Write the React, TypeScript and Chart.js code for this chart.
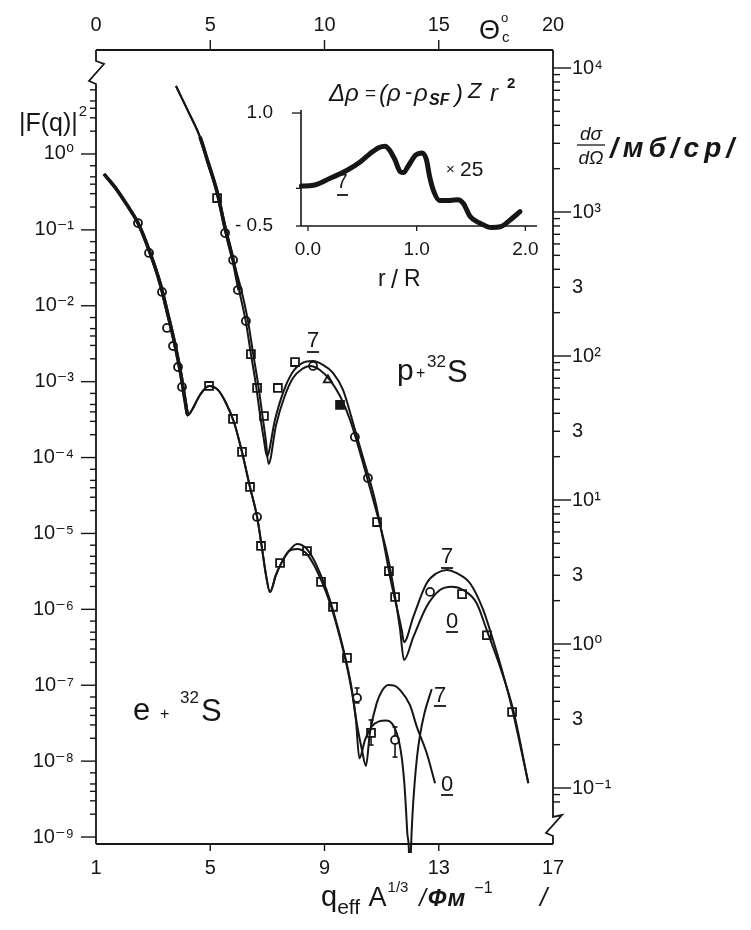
import React, { useEffect, useRef } from "react";
import { Chart, registerables } from "chart.js";
Chart.register(...registerables);

const FONT = "'Liberation Sans', 'DejaVu Sans', sans-serif";
const INK = "#161616";

// ---------- e + 32S : |F(q)|^2 versus q_eff A^(1/3) ----------
const eQ = [1.28, 1.735, 2.085, 2.47, 2.856, 3.241, 3.521, 3.766, 3.976, 4.116, 4.221, 4.361, 4.64, 4.957, 5.27, 5.55, 5.83, 6.11, 6.39, 6.64, 6.81, 6.95, 7.09, 7.30, 7.51, 7.76];
const eF = [0.545, 0.336, 0.213, 0.123, 0.0543, 0.02, 0.00757, 0.00305, 0.00122, 5.74e-4, 3.64e-4, 4.24e-4, 6.68e-4, 8.77e-4, 7.78e-4, 5.24e-4, 2.94e-4, 1.19e-4, 4.1e-5, 1.65e-5, 6.46e-6, 2.84e-6, 1.69e-6, 2.84e-6, 4.22e-6, 5.89e-6];
const e7Q = [8.04, 8.35, 8.63, 8.91, 9.19, 9.47, 9.75, 9.96, 10.10, 10.22, 10.42, 10.65, 10.885, 11.18, 11.53, 11.70, 11.795, 11.854, 11.90, 11.95, 11.99, 12.03, 12.08, 12.15, 12.24, 12.345, 12.485, 12.754];
const e7F = [7.28e-6, 6.44e-6, 4.48e-6, 2.59e-6, 1.33e-6, 5.69e-7, 2.15e-7, 8.67e-8, 3.49e-8, 1.09e-8, 1.9e-8, 2.85e-8, 3.31e-8, 3.42e-8, 2.33e-8, 1.15e-8, 5.12e-9, 2.28e-9, 1.12e-9, 7.5e-10, 2.5e-10, 7.5e-10, 1.95e-9, 4.85e-9, 1.14e-8, 2.21e-8, 4.06e-8, 8.93e-8];
const e0Q = [8.04, 8.35, 8.63, 8.91, 9.19, 9.47, 9.75, 9.96, 10.14, 10.31, 10.45, 10.59, 10.83, 11.01, 11.235, 11.47, 11.64, 11.99, 12.23, 12.58, 12.87];
const e0F = [6.25e-6, 5.53e-6, 3.85e-6, 2.3e-6, 1.21e-6, 5.36e-7, 2.03e-7, 8.17e-8, 3.0e-8, 1.41e-8, 8.65e-9, 2.35e-8, 5.85e-8, 8.41e-8, 1.01e-7, 9.79e-8, 8.67e-8, 5.5e-8, 2.85e-8, 1.27e-8, 5.12e-9];
const ePtQ = [2.47, 2.856, 3.311, 3.486, 3.696, 3.871, 4.011, 4.957, 5.797, 6.112, 6.392, 6.637, 6.777, 7.443, 8.388, 8.878, 9.298, 9.788, 10.139, 10.629, 11.469];
const ePtF = [0.123, 0.0497, 0.0152, 0.0051, 0.00295, 0.00156, 8.51e-4, 8.77e-4, 3.23e-4, 1.19e-4, 4.1e-5, 1.65e-5, 6.84e-6, 4.08e-6, 5.87e-6, 2.3e-6, 1.08e-6, 2.29e-7, 6.81e-8, 2.36e-8, 1.9e-8];
const ePtKind = ["c", "c", "c", "c", "c", "c", "c", "s", "s", "s", "s", "c", "s", "s", "s", "s", "s", "s", "c", "s", "c"];
const eErrQ = [10.139, 10.629, 11.469];
const eErrLo = [5.85e-8, 1.63e-8, 1.13e-8];
const eErrHi = [9.2e-8, 3.49e-8, 2.82e-8];

// ---------- p + 32S : dσ/dΩ (mb/sr) versus θc (deg) ----------
const pTh = [3.50, 4.03, 4.55, 4.90, 5.30, 5.65, 6.00];
const pSig = [7500, 5020, 3320, 2220, 1377, 774, 464];
const p7Th = [6.26, 6.56, 6.78, 7.00, 7.18, 7.35, 7.48, 7.83, 8.18, 8.58, 9.02, 9.50, 9.93, 10.37, 10.81, 11.25, 11.68, 12.21, 12.65, 12.87, 13.16, 13.38, 13.48, 13.89, 14.47, 14.91, 15.35, 15.79, 16.37, 16.95, 17.24, 17.68, 18.19, 18.92];
const p7Sig = [287, 172, 103, 63.0, 38.9, 26.1, 20.2, 36.0, 55.3, 76.2, 89.3, 92.3, 86.7, 76.2, 58.1, 34.3, 19.9, 10.0, 4.5, 2.92, 1.81, 1.25, 1.03, 1.55, 2.64, 3.1, 3.27, 3.1, 2.64, 1.72, 1.25, 0.735, 0.367, 0.108];
const p0Th = [6.36, 6.66, 6.88, 7.10, 7.28, 7.43, 7.55, 7.88, 8.23, 8.62, 9.02, 9.37, 9.80, 10.24, 10.68, 11.12, 11.55, 11.99, 12.43, 12.78, 13.04, 13.30, 13.48, 13.89, 14.47, 15.05, 15.57, 16.07, 16.66, 17.10, 17.68, 18.26, 18.92];
const p0Sig = [287, 172, 103, 63.0, 38.9, 26.1, 17.8, 33.2, 51.1, 70.3, 81.3, 85.3, 80.0, 68.1, 52.7, 36.0, 21.5, 12.1, 6.7, 3.95, 2.37, 1.29, 0.774, 1.12, 1.82, 2.37, 2.5, 2.37, 1.92, 1.25, 0.695, 0.348, 0.108];
const pPtTh = [5.30, 5.65, 6.00, 6.21, 6.56, 6.78, 7.05, 7.35, 7.96, 8.71, 9.50, 10.15, 10.68, 11.33, 11.90, 12.30, 12.82, 13.09, 14.62, 16.02, 17.11, 18.21];
const pPtSig = [1250, 714, 464, 287, 175, 103, 60, 38.3, 60, 90.8, 85.3, 68.1, 45.7, 27.4, 14.2, 7.03, 3.21, 2.12, 2.3, 2.22, 1.15, 0.337];
const pPtKind = ["s", "c", "c", "c", "c", "s", "s", "s", "s", "s", "c", "t", "f", "c", "c", "s", "s", "s", "c", "s", "s", "s"];

// ---------- inset : Δρ versus r/R ----------
const insetR = [-0.06, 0.05, 0.20, 0.36, 0.48, 0.57, 0.65, 0.71, 0.75, 0.80, 0.85, 0.88, 0.92, 0.99, 1.05, 1.09, 1.12, 1.16, 1.21, 1.31, 1.38, 1.43, 1.49, 1.58, 1.69, 1.77, 1.86, 1.95];
const insetV = [0.03, 0.04, 0.13, 0.24, 0.35, 0.46, 0.54, 0.56, 0.51, 0.38, 0.22, 0.21, 0.29, 0.44, 0.47, 0.38, 0.15, -0.05, -0.16, -0.16, -0.15, -0.20, -0.37, -0.46, -0.52, -0.51, -0.42, -0.31];

// ---------- ticks ----------
const qTicks = [1, 5, 9, 13, 17];
const thetaTicks = [0, 5, 10, 15, 20];
const fExps = [0, -1, -2, -3, -4, -5, -6, -7, -8, -9];
const fLabels = ["10⁰", "10⁻¹", "10⁻²", "10⁻³", "10⁻⁴", "10⁻⁵", "10⁻⁶", "10⁻⁷", "10⁻⁸", "10⁻⁹"];
const leftMinorMult = [1, 2, 3, 4, 5, 7];
const rightMinorMult = [1, 2, 3, 4, 5, 6, 7, 8, 9];
const sigExps = [3, 2, 1, 0, -1];
const sigLabelVals = [1e4, 1e3, 300, 100, 30, 10, 3, 1, 0.3, 0.1];
const sigLabels = ["10⁴", "10³", "3", "10²", "3", "10¹", "3", "10⁰", "3", "10⁻¹"];
const insetXTicks = [0, 1, 2];
const insetXLabels = ["0.0", "1.0", "2.0"];
const insetYTicks = [-0.5, 0, 1.0];
const insetYLabels = ["- 0.5", "", "1.0"];

const pts = (xs: number[], ys: number[]) => xs.map((x, i) => ({ x, y: ys[i] }));
const isDecade = (v: number) => Math.abs(Math.log10(v) - Math.round(Math.log10(v))) < 1e-6;

function txt(ctx: any, s: string, x: number, y: number, size: number, o: any = {}) {
  ctx.font = `${o.it ? "italic " : ""}${o.b ? "bold " : ""}${size}px ${FONT}`;
  ctx.textAlign = o.align || "left";
  ctx.textBaseline = "alphabetic";
  ctx.letterSpacing = o.ls ? `${o.ls}px` : "0px";
  ctx.fillText(s, x, y);
  const w = ctx.measureText(s).width;
  ctx.letterSpacing = "0px";
  return x + w;
}
function seg(ctx: any, x1: number, y1: number, x2: number, y2: number) {
  ctx.beginPath(); ctx.moveTo(x1, y1); ctx.lineTo(x2, y2); ctx.stroke();
}
function poly(ctx: any, p: number[][]) {
  ctx.beginPath(); ctx.moveTo(p[0][0], p[0][1]);
  for (let i = 1; i < p.length; i++) ctx.lineTo(p[i][0], p[i][1]);
  ctx.stroke();
}
function ulabel(ctx: any, s: string, cx: number, base: number, ul: number) {
  txt(ctx, s, cx, base, 22, { align: "center" });
  ctx.lineWidth = 1.8;
  seg(ctx, cx - 6, ul, cx + 6, ul);
}

const kindStyle = (k: string) => (k === "c" ? "circle" : k === "t" ? "triangle" : "rect");
const kindRadius = (k: string) => (k === "c" ? 4.0 : k === "t" ? 4.8 : 5.6);
const kindBg = (k: string) => (k === "f" ? INK : "#fff");

const mainDecor = {
  id: "mainDecor",
  beforeDatasetsDraw(chart: any) {
    const { ctx } = chart;
    const sx = chart.scales.x, sy = chart.scales.y;
    ctx.save();
    ctx.strokeStyle = INK; ctx.lineWidth = 1.6;
    eErrQ.forEach((q, i) => {
      const px = sx.getPixelForValue(q);
      const y1 = sy.getPixelForValue(eErrLo[i]);
      const y2 = sy.getPixelForValue(eErrHi[i]);
      seg(ctx, px, y1, px, y2);
      seg(ctx, px - 2.5, y1, px + 2.5, y1);
      seg(ctx, px - 2.5, y2, px + 2.5, y2);
    });
    ctx.restore();
  },
  afterDraw(chart: any) {
    const { ctx, chartArea: a } = chart;
    const sx = chart.scales.x, st = chart.scales.xTop, sl = chart.scales.y, sr = chart.scales.yRight;
    ctx.save();
    ctx.strokeStyle = INK; ctx.fillStyle = INK; ctx.lineJoin = "miter";
    ctx.lineWidth = 1.8;
    seg(ctx, a.left, a.top, a.right, a.top);
    seg(ctx, a.left, a.bottom, a.right, a.bottom);
    poly(ctx, [[a.left, a.bottom], [a.left, a.top + 34], [a.left - 7, a.top + 31], [a.left + 8, a.top + 14], [a.left, a.top + 11], [a.left, a.top]]);
    poly(ctx, [[a.right, a.top], [a.right, a.bottom - 27], [a.right + 9, a.bottom - 29], [a.right - 7, a.bottom - 11], [a.right, a.bottom - 8], [a.right, a.bottom]]);
    ctx.lineWidth = 1.4;
    for (const t of sx.ticks) {
      const px = sx.getPixelForValue(t.value);
      if (px > a.left + 2 && px < a.right - 2) seg(ctx, px, a.bottom, px, a.bottom + 7);
    }
    for (const t of st.ticks) {
      const px = st.getPixelForValue(t.value);
      if (px > a.left + 2 && px < a.right - 2) seg(ctx, px, a.top, px, a.top - 10);
    }
    for (const t of sl.ticks) {
      const py = sl.getPixelForValue(t.value);
      if (py < a.top + 36) continue;
      const len = isDecade(t.value) ? 15 : 6;
      seg(ctx, a.left - len, py, a.left, py);
    }
    for (const t of sr.ticks) {
      const py = sr.getPixelForValue(t.value);
      if (py > a.bottom - 32 || py < a.top + 2) continue;
      const len = isDecade(t.value) ? 18 : 7;
      seg(ctx, a.right, py, a.right + len, py);
    }
    // left title |F(q)|^2
    let x = txt(ctx, "|F(q)|", 19, 131, 25);
    txt(ctx, "2", x + 1, 116, 15);
    // right title dσ/dΩ /мб/ср/
    txt(ctx, "dσ", 591, 140, 19, { it: true, align: "center" });
    ctx.lineWidth = 1.3; seg(ctx, 577, 145, 605, 145);
    txt(ctx, "dΩ", 591, 164, 19, { it: true, align: "center" });
    txt(ctx, "/мб/ср/", 610, 157, 28, { it: true, b: true, ls: 5 });
    // top title θc
    txt(ctx, "Θ", 479, 39, 27);
    txt(ctx, "o", 501, 22, 13);
    txt(ctx, "c", 502, 42, 15);
    // bottom title
    x = txt(ctx, "q", 321, 906, 29);
    x = txt(ctx, "eff", x, 914, 21);
    x = txt(ctx, " A", x + 1, 906, 27);
    x = txt(ctx, "1/3", x + 1, 892, 15);
    x = txt(ctx, " /", x + 4, 906, 24, { it: true });
    x = txt(ctx, "Фм", x + 2, 906, 24, { it: true, b: true, ls: 1 });
    txt(ctx, "−1", x + 8, 893, 16);
    txt(ctx, "/", 540, 906, 26, { it: true });
    // reaction labels
    txt(ctx, "p", 397, 380, 30);
    txt(ctx, "+", 416, 378, 16);
    txt(ctx, "32", 427, 367, 17);
    txt(ctx, "S", 447, 382, 31);
    txt(ctx, "e", 133, 720, 31);
    txt(ctx, "+", 160, 719, 16);
    txt(ctx, "32", 180, 703, 17);
    txt(ctx, "S", 201, 721, 31);
    // curve labels
    ulabel(ctx, "7", 313, 347, 352);
    ulabel(ctx, "7", 447, 563, 568);
    ulabel(ctx, "0", 452, 628, 632);
    ulabel(ctx, "7", 440, 702, 706);
    ulabel(ctx, "0", 447, 791, 795);
    // inset texts
    txt(ctx, "Δρ", 329, 101, 24, { it: true });
    txt(ctx, "=", 365, 99, 19);
    txt(ctx, "(", 379, 102, 24, { it: true });
    txt(ctx, "ρ", 387, 101, 24, { it: true });
    txt(ctx, "-", 405, 99, 22);
    txt(ctx, "ρ", 414, 101, 24, { it: true });
    txt(ctx, "SF", 429, 105, 16, { it: true, b: true });
    txt(ctx, ")", 455, 102, 24, { it: true });
    txt(ctx, "Z", 468, 98, 22, { it: true });
    txt(ctx, "r", 490, 101, 24, { it: true });
    txt(ctx, "2", 507, 88, 15, { b: true });
    txt(ctx, "×", 446, 174, 15);
    txt(ctx, "25", 460, 176, 21);
    txt(ctx, "r", 378, 286, 23);
    txt(ctx, "/", 391, 288, 25);
    txt(ctx, "R", 404, 286, 23);
    txt(ctx, "7", 342, 188, 20, { align: "center" });
    ctx.lineWidth = 1.8; seg(ctx, 337, 195, 348, 195);
    ctx.restore();
  },
};

const insetDecor = {
  id: "insetDecor",
  afterDraw(chart: any) {
    const { ctx, chartArea: a } = chart;
    const sx = chart.scales.x, sy = chart.scales.y;
    ctx.save();
    ctx.strokeStyle = INK; ctx.lineWidth = 1.6;
    seg(ctx, a.left, a.bottom, a.left, a.top);
    seg(ctx, a.left, a.bottom, a.right, a.bottom);
    ctx.lineWidth = 1.3;
    for (const t of sy.ticks) {
      const py = sy.getPixelForValue(t.value);
      seg(ctx, a.left - (t.value === 1 ? 9 : 5), py, a.left, py);
    }
    for (const t of sx.ticks) {
      const px = sx.getPixelForValue(t.value);
      if (px > a.left + 3) seg(ctx, px, a.bottom, px, a.bottom + 5);
    }
    ctx.restore();
  },
};

const fixW = (w: number) => (s: any) => { s.width = w; };
const fixH = (h: number) => (s: any) => { s.height = h; };
const tickFont = { family: FONT, size: 20 };

function mainConfig(): any {
  const lineDs = (data: any[], xAxisID: string, yAxisID: string, thick: (x0: number, x1: number) => boolean, clipBottom = 0) => ({
    type: "line", data, xAxisID, yAxisID, borderColor: INK, borderWidth: 2.0, pointRadius: 0, fill: false,
    cubicInterpolationMode: "monotone", clip: { left: 0, top: 0, right: 0, bottom: clipBottom },
    segment: { borderWidth: (c: any) => (thick(c.p0.parsed.x, c.p1.parsed.x) ? 3.4 : 2.0) },
  });
  const eThick = (x0: number, x1: number) => x1 <= 4.23;
  const pThick = (x0: number, x1: number) => x0 >= 4.5 && x1 <= 6.3;
  const ptDs = (xs: number[], ys: number[], kinds: string[], xAxisID: string, yAxisID: string) => ({
    type: "line", showLine: false, data: pts(xs, ys), xAxisID, yAxisID,
    pointStyle: kinds.map(kindStyle), pointRadius: kinds.map(kindRadius),
    pointBackgroundColor: kinds.map(kindBg), pointBorderColor: INK, pointBorderWidth: 1.8,
  });
  const leftTicks: number[] = [];
  fExps.forEach((e) => leftMinorMult.forEach((m) => leftTicks.push(m * Math.pow(10, e))));
  const rightTicks: number[] = [1e4, 0.09, 0.08];
  sigExps.forEach((e) => rightMinorMult.forEach((m) => rightTicks.push(m * Math.pow(10, e))));
  return {
    type: "line",
    data: {
      datasets: [
        lineDs(pts(eQ.concat(e7Q), eF.concat(e7F)), "x", "y", eThick, 9),
        lineDs(pts(eQ.concat(e0Q), eF.concat(e0F)), "x", "y", eThick),
        lineDs(pts(pTh.concat(p7Th), pSig.concat(p7Sig)), "xTop", "yRight", pThick),
        lineDs(pts(pTh.concat(p0Th), pSig.concat(p0Sig)), "xTop", "yRight", pThick),
        ptDs(ePtQ, ePtF, ePtKind, "x", "y"),
        ptDs(pPtTh, pPtSig, pPtKind, "xTop", "yRight"),
      ],
    },
    options: {
      responsive: false, animation: false, devicePixelRatio: 1, events: [],
      layout: { padding: 0 },
      plugins: { legend: { display: false }, tooltip: { enabled: false } },
      scales: {
        x: {
          type: "linear", position: "bottom", min: 1, max: 17,
          afterBuildTicks: (s: any) => { s.ticks = qTicks.map((v) => ({ value: v })); },
          ticks: { autoSkip: false, maxRotation: 0, padding: 12, color: INK, font: tickFont, callback: (v: any) => String(v) },
          grid: { display: false, drawTicks: false }, border: { display: false }, afterFit: fixH(86),
        },
        xTop: {
          type: "linear", position: "top", min: 0, max: 20,
          afterBuildTicks: (s: any) => { s.ticks = thetaTicks.map((v) => ({ value: v })); },
          ticks: { autoSkip: false, maxRotation: 0, padding: 13, color: INK, font: tickFont, callback: (v: any) => String(v) },
          grid: { display: false, drawTicks: false }, border: { display: false }, afterFit: fixH(50),
        },
        y: {
          type: "logarithmic", position: "left", min: Math.pow(10, -9.092), max: Math.pow(10, 1.37),
          afterBuildTicks: (s: any) => { s.ticks = leftTicks.map((v) => ({ value: v })); },
          ticks: {
            autoSkip: false, padding: 22, color: INK, font: tickFont,
            callback: (v: any) => {
              if (!isDecade(v)) return "";
              const i = fExps.indexOf(Math.round(Math.log10(v)));
              return i >= 0 ? fLabels[i] : "";
            },
          },
          grid: { display: false, drawTicks: false }, border: { display: false }, afterFit: fixW(96),
        },
        yRight: {
          type: "logarithmic", position: "right", min: Math.pow(10, -1.389), max: Math.pow(10, 4.125),
          afterBuildTicks: (s: any) => { s.ticks = rightTicks.map((v) => ({ value: v })); },
          ticks: {
            autoSkip: false, padding: 19, color: INK, font: tickFont,
            callback: (v: any) => {
              const i = sigLabelVals.findIndex((w) => Math.abs(v / w - 1) < 1e-6);
              return i >= 0 ? sigLabels[i] : "";
            },
          },
          grid: { display: false, drawTicks: false }, border: { display: false }, afterFit: fixW(198),
        },
      },
    },
    plugins: [mainDecor],
  };
}

function insetConfig(): any {
  const f = { family: FONT, size: 19 };
  return {
    type: "line",
    data: {
      datasets: [{
        data: pts(insetR, insetV), borderColor: INK, borderWidth: 5, pointRadius: 0, fill: false,
        cubicInterpolationMode: "monotone", borderCapStyle: "round", borderJoinStyle: "round", clip: 6,
      }],
    },
    options: {
      responsive: false, animation: false, devicePixelRatio: 1, events: [],
      layout: { padding: 0 },
      plugins: { legend: { display: false }, tooltip: { enabled: false } },
      scales: {
        x: {
          type: "linear", position: "bottom", min: -0.064, max: 2.107,
          afterBuildTicks: (s: any) => { s.ticks = insetXTicks.map((v) => ({ value: v })); },
          ticks: { autoSkip: false, maxRotation: 0, padding: 12, color: INK, font: f, callback: (v: any) => insetXLabels[insetXTicks.indexOf(v)] ?? "" },
          grid: { display: false, drawTicks: false }, border: { display: false }, afterFit: fixH(74),
        },
        y: {
          type: "linear", position: "left", min: -0.5, max: 1.04,
          afterBuildTicks: (s: any) => { s.ticks = insetYTicks.map((v) => ({ value: v })); },
          ticks: { autoSkip: false, padding: 28, color: INK, font: f, callback: (v: any) => insetYLabels[insetYTicks.indexOf(v)] ?? "" },
          grid: { display: false, drawTicks: false }, border: { display: false }, afterFit: fixW(71),
        },
        yPad: {
          type: "linear", position: "right", display: true, min: 0, max: 1,
          ticks: { display: false }, grid: { display: false, drawTicks: false }, border: { display: false }, afterFit: fixW(23),
        },
        xPad: {
          type: "linear", position: "top", display: true, min: 0, max: 1,
          ticks: { display: false }, grid: { display: false, drawTicks: false }, border: { display: false }, afterFit: fixH(50),
        },
      },
    },
    plugins: [insetDecor],
  };
}

export default function App() {
  const mainRef = useRef<HTMLCanvasElement>(null);
  const insetRef = useRef<HTMLCanvasElement>(null);
  useEffect(() => {
    const main = new Chart(mainRef.current as HTMLCanvasElement, mainConfig());
    const inset = new Chart(insetRef.current as HTMLCanvasElement, insetConfig());
    return () => { main.destroy(); inset.destroy(); };
  }, []);
  return (
    <div style={{ position: "fixed", left: 0, top: 0, width: 751, height: 930, background: "#fff", overflow: "hidden" }}>
      <canvas ref={mainRef} width={751} height={930} style={{ position: "absolute", left: 0, top: 0, width: 751, height: 930 }} />
      <canvas ref={insetRef} width={330} height={240} style={{ position: "absolute", left: 230, top: 60, width: 330, height: 240 }} />
    </div>
  );
}
